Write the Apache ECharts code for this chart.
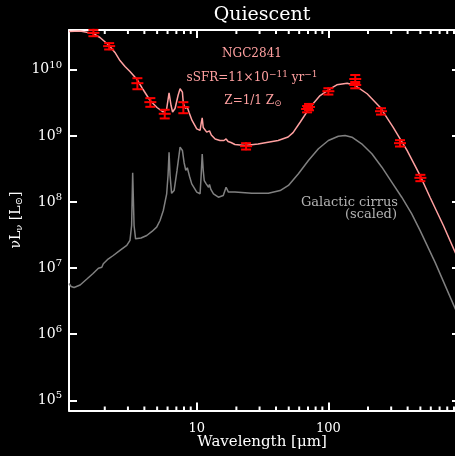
<!DOCTYPE html>
<html>
<head>
<meta charset="utf-8">
<script src="https://cdn.jsdelivr.net/npm/echarts@6/dist/echarts.min.js"></script>
<style>
  html, body { margin: 0; padding: 0; background: #000; }
  #chart { width: 455px; height: 456px; }
</style>
</head>
<body>
<div id="chart"></div>
<script>
// Best-fit SED model of NGC2841 (wavelength in micron, nuL_nu in L_sun)
const modelWl = [1.07,1.30,1.63,1.84,2.16,2.39,2.61,2.85,3.11,3.52,3.91,4.42,4.99,5.55,5.90,6.16,6.38,6.55,6.84,7.21,7.47,7.78,7.91,8.22,8.44,8.74,9.21,10.0,10.6,10.8,11.0,11.2,11.9,12.5,12.9,13.8,15.0,16.1,16.7,17.3,18.2,19.5,23.3,29.2,41.5,49.4,53.9,61.0,72.6,86.5,103,116,139,160,197,247,310,396,497,593,748,918,1000];
const modelLum = [3.8e10,3.86e10,3.54e10,3.08e10,2.33e10,1.83e10,1.38e10,1.12e10,9.42e9,7.13e9,5.03e9,3.43e9,2.69e9,2.30e9,2.51e9,4.49e9,2.88e9,2.30e9,2.60e9,4.08e9,5.16e9,4.59e9,3.09e9,2.60e9,2.79e9,2.26e9,1.71e9,1.28e9,1.21e9,1.54e9,1.87e9,1.34e9,1.14e9,1.19e9,1.03e9,8.98e8,8.51e8,8.51e8,8.98e8,8.22e8,7.94e8,7.41e8,7.16e8,7.54e8,8.51e8,9.61e8,1.12e9,1.61e9,2.72e9,4.08e9,5.16e9,5.93e9,6.27e9,5.78e9,4.34e9,2.72e9,1.36e9,6.02e8,2.52e8,1.17e8,4.41e7,1.74e7,1.17e7];

// Galactic cirrus template, scaled
const cirrusWl = [1.07,1.11,1.17,1.30,1.47,1.63,1.79,1.90,1.95,2.12,2.32,2.61,2.94,3.11,3.20,3.26,3.34,3.43,3.52,3.77,4.17,4.57,4.96,5.26,5.57,5.91,6.05,6.16,6.27,6.44,6.73,7.08,7.47,7.78,8.01,8.25,8.48,8.82,9.16,10.0,10.6,10.8,11.0,11.2,11.4,11.8,12.3,12.5,12.8,13.4,14.6,15.9,16.7,17.4,17.9,19.5,26.2,35.0,43.0,49.7,59.2,70.5,84.0,100,119,134,151,179,214,255,303,361,430,497,647,918,1000];
const cirrusLum = [5.85e6,5.27e6,5.09e6,5.55e6,6.89e6,8.28e6,9.96e6,1.03e7,1.16e7,1.37e7,1.55e7,1.85e7,2.20e7,2.62e7,4.41e7,2.77e8,4.41e7,2.77e7,2.71e7,2.85e7,3.11e7,3.58e7,4.16e7,5.25e7,7.43e7,1.33e8,2.52e8,5.66e8,2.52e8,1.35e8,1.49e8,3.00e8,6.75e8,6.02e8,3.96e8,3.00e8,3.29e8,2.43e8,1.88e8,1.41e8,1.33e8,2.52e8,5.32e8,3.00e8,2.11e8,1.88e8,1.67e8,1.84e8,1.55e8,1.33e8,1.18e8,1.25e8,1.67e8,1.41e8,1.33e8,1.41e8,1.36e8,1.36e8,1.49e8,1.78e8,2.67e8,4.25e8,6.38e8,8.51e8,9.89e8,1.01e9,9.55e8,7.59e8,5.36e8,3.36e8,2.00e8,1.18e8,6.62e7,3.71e7,1.22e7,2.45e6,1.73e6];

// Observed photometry with fractional errors
const photWl  = [1.64, 2.16, 3.54, 4.44, 5.71, 7.91, 23.7, 68.9, 71.3, 100, 160, 160, 251, 350, 500];
const photLum = [3.62e10, 2.28e10, 6.27e9, 3.24e9, 2.16e9, 2.72e9, 6.98e8, 2.55e9, 2.74e9, 4.74e9, 7.26e9, 5.89e9, 2.36e9, 7.76e8, 2.32e8];
const photErr = [0.11, 0.11, 0.19, 0.15, 0.15, 0.19, 0.11, 0.11, 0.11, 0.11, 0.15, 0.11, 0.11, 0.11, 0.11];

// Axis ranges and minor tick positions
const xMin = 1.07, xMax = 1000;
const yMin = 7e4, yMax = 4e10;
const xMinorTicks = [2,3,4,5,6,7,8,9,20,30,40,50,60,70,80,90,200,300,400,500,600,700,800,900];

const FONT = '"DejaVu Serif", serif';
const PINK = '#ffa0a0';

const chart = echarts.init(document.getElementById('chart'));

function isDecade(v) {
  const l = Math.log10(v);
  return Math.abs(l - Math.round(l)) < 1e-6;
}

function renderPhot(params, api) {
  const x = api.value(0), y = api.value(1), e = api.value(2);
  const c = api.coord([x, y]);
  const lo = api.coord([x, y * (1 - e)]);
  const hi = api.coord([x, y * (1 + e)]);
  const cap = 5, arm = 6, varm = 4;
  const top = Math.min(hi[1], c[1] - varm);
  const bot = Math.max(lo[1], c[1] + varm);
  const st = { stroke: '#ff0000', lineWidth: 2 };
  return {
    type: 'group',
    children: [
      { type: 'line', shape: { x1: c[0], y1: top, x2: c[0], y2: bot }, style: st },
      { type: 'line', shape: { x1: c[0] - arm, y1: c[1], x2: c[0] + arm, y2: c[1] }, style: st },
      { type: 'line', shape: { x1: c[0] - cap, y1: hi[1], x2: c[0] + cap, y2: hi[1] }, style: st },
      { type: 'line', shape: { x1: c[0] - cap, y1: lo[1], x2: c[0] + cap, y2: lo[1] }, style: st }
    ]
  };
}

function renderMinorTick(params, api) {
  const v = api.value(0);
  const b = api.coord([v, yMin]);
  const t = api.coord([v, yMax]);
  const st = { stroke: '#ffffff', lineWidth: 2 };
  return {
    type: 'group',
    children: [
      { type: 'line', shape: { x1: b[0], y1: b[1], x2: b[0], y2: b[1] - 4 }, style: st },
      { type: 'line', shape: { x1: t[0], y1: t[1], x2: t[0], y2: t[1] + 4 }, style: st }
    ]
  };
}

const axisLineStyle = { lineStyle: { color: '#ffffff', width: 2 } };
const majorTick = { show: true, inside: true, length: 8, lineStyle: { color: '#ffffff', width: 2 } };

const option = {
  backgroundColor: '#000000',
  animation: false,
  grid: { left: 69, top: 30, width: 391, height: 380.5, containLabel: false, outerBoundsMode: 'none' },
  xAxis: [
    {
      type: 'log', min: xMin, max: xMax, position: 'bottom',
      axisLine: Object.assign({ onZero: false }, axisLineStyle),
      axisTick: majorTick,
      splitLine: { show: false },
      axisLabel: {
        margin: 12, color: '#ffffff', fontFamily: FONT, fontSize: 13,
        formatter: v => (isDecade(v) && v > xMin * 1.01 && v < xMax * 0.99) ? String(Math.round(v)) : ''
      }
    },
    {
      type: 'log', min: xMin, max: xMax, position: 'top',
      axisLine: Object.assign({ onZero: false }, axisLineStyle),
      axisTick: majorTick,
      splitLine: { show: false },
      axisLabel: { show: false }
    }
  ],
  yAxis: [
    {
      type: 'log', min: yMin, max: yMax, position: 'left',
      axisLine: Object.assign({ onZero: false }, axisLineStyle),
      axisTick: majorTick,
      splitLine: { show: false },
      axisLabel: {
        margin: 7, color: '#ffffff', fontFamily: FONT,
        formatter: v => (isDecade(v) && v > yMin * 1.01 && v < yMax * 0.99) ? '{b|10}{s|' + Math.round(Math.log10(v)) + '}' : '',
        rich: {
          b: { fontFamily: FONT, fontSize: 14, color: '#ffffff' },
          s: { fontFamily: FONT, fontSize: 10, color: '#ffffff', padding: [0, 0, 9, 0] }
        }
      }
    },
    {
      type: 'log', min: yMin, max: yMax, position: 'right',
      axisLine: Object.assign({ onZero: false }, axisLineStyle),
      axisTick: majorTick,
      splitLine: { show: false },
      axisLabel: { show: false }
    }
  ],
  series: [
    {
      name: 'Galactic cirrus', type: 'line', xAxisIndex: 0, yAxisIndex: 0,
      data: cirrusWl.map((w, i) => [w, cirrusLum[i]]),
      showSymbol: false, lineStyle: { color: '#808080', width: 1.5 }, z: 2
    },
    {
      name: 'Model', type: 'line', xAxisIndex: 0, yAxisIndex: 0,
      data: modelWl.map((w, i) => [w, modelLum[i]]),
      showSymbol: false, lineStyle: { color: PINK, width: 1.5 }, z: 3
    },
    {
      name: 'Photometry', type: 'custom', xAxisIndex: 0, yAxisIndex: 0,
      renderItem: renderPhot, encode: { x: 0, y: 1 },
      data: photWl.map((w, i) => [w, photLum[i], photErr[i]]), z: 5
    },
    {
      name: 'Minor ticks', type: 'custom', xAxisIndex: 0, yAxisIndex: 0,
      renderItem: renderMinorTick, encode: { x: 0, y: 1 }, clip: false,
      data: xMinorTicks.map(v => [v, yMin]), z: 6, silent: true
    }
  ],
  graphic: [
    {
      type: 'text', x: 262, y: 15,
      style: { text: 'Quiescent', fill: '#ffffff', font: '19px ' + FONT, textAlign: 'center', textVerticalAlign: 'middle', align: 'center', verticalAlign: 'middle' }
    },
    {
      type: 'text', x: 262, y: 442,
      style: { text: 'Wavelength [μm]', fill: '#ffffff', font: '15px ' + FONT, textAlign: 'center', textVerticalAlign: 'middle', align: 'center', verticalAlign: 'middle' }
    },
    {
      type: 'text', x: 16, y: 220, rotation: Math.PI / 2,
      style: {
        text: 'νL{sub|ν} [L{sub|⊙}]', fill: '#ffffff', font: '14px ' + FONT,
        textAlign: 'center', textVerticalAlign: 'middle', align: 'center', verticalAlign: 'middle',
        rich: { sub: { font: '10px ' + FONT, fill: '#ffffff', padding: [6, 0, 0, 0] } }
      }
    },
    {
      type: 'text', x: 252, y: 54,
      style: { text: 'NGC2841', fill: PINK, font: '12px ' + FONT, textAlign: 'center', textVerticalAlign: 'middle', align: 'center', verticalAlign: 'middle' }
    },
    {
      type: 'text', x: 252, y: 78,
      style: {
        text: 'sSFR=11×10{sup|−11} yr{sup|−1}', fill: PINK, font: '12px ' + FONT,
        textAlign: 'center', textVerticalAlign: 'middle', align: 'center', verticalAlign: 'middle',
        rich: { sup: { font: '9px ' + FONT, fill: PINK, padding: [0, 0, 7, 0] } }
      }
    },
    {
      type: 'text', x: 253, y: 101,
      style: {
        text: 'Z=1/1 Z{sub|⊙}', fill: PINK, font: '12px ' + FONT,
        textAlign: 'center', textVerticalAlign: 'middle', align: 'center', verticalAlign: 'middle',
        rich: { sub: { font: '9px ' + FONT, fill: PINK, padding: [5, 0, 0, 0] } }
      }
    },
    {
      type: 'text', x: 398, y: 203,
      style: { text: 'Galactic cirrus', fill: '#b4b4b4', font: '13px ' + FONT, textAlign: 'right', textVerticalAlign: 'middle', align: 'right', verticalAlign: 'middle' }
    },
    {
      type: 'text', x: 397, y: 215,
      style: { text: '(scaled)', fill: '#b4b4b4', font: '13px ' + FONT, textAlign: 'right', textVerticalAlign: 'middle', align: 'right', verticalAlign: 'middle' }
    }
  ]
};

chart.setOption(option);
</script>
</body>
</html>
